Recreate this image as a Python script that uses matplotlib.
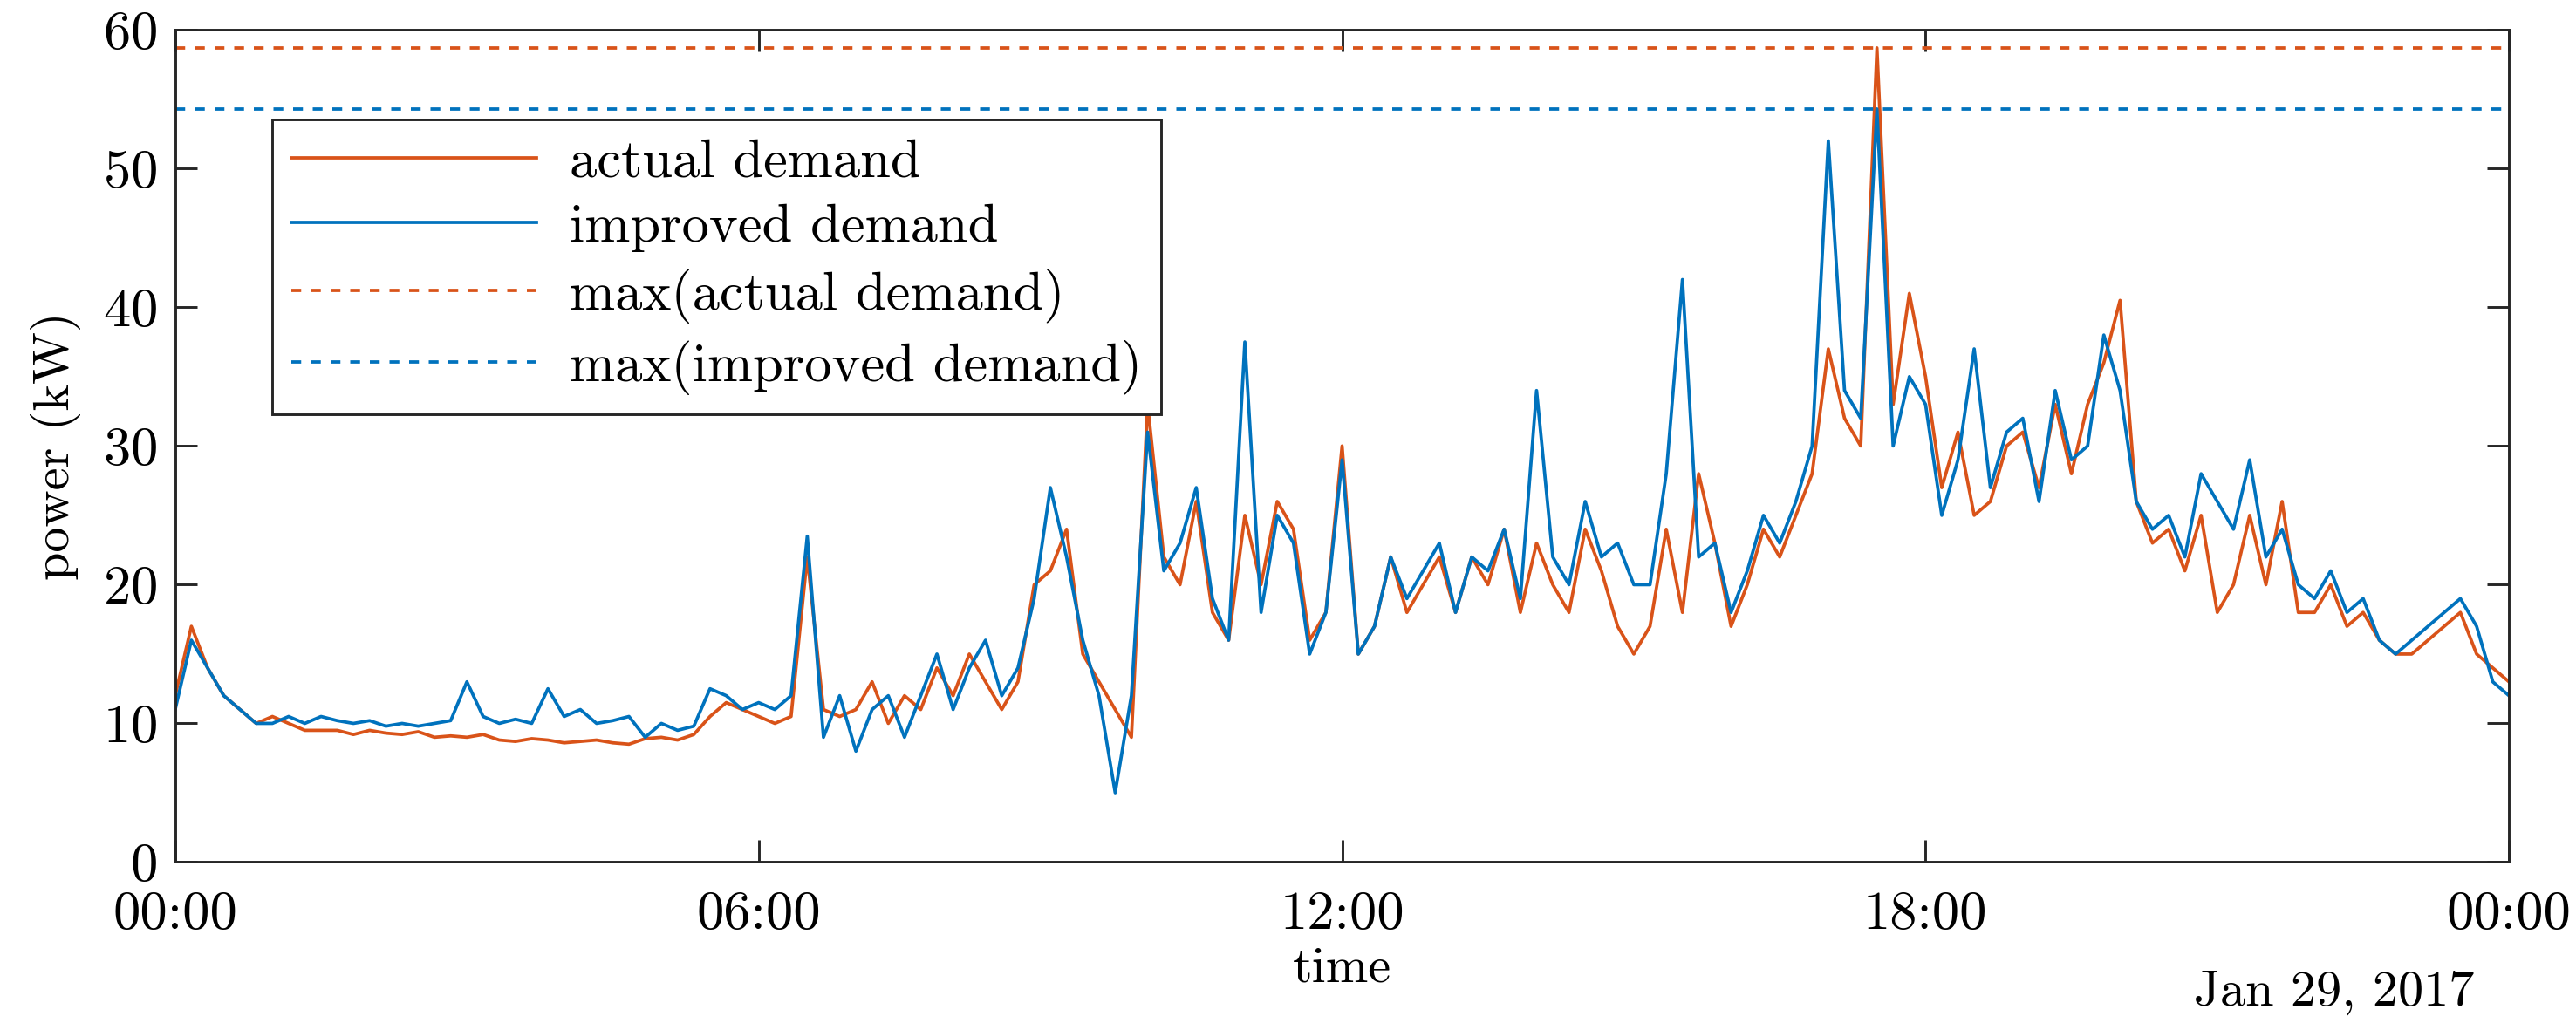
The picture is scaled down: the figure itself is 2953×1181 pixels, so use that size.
import numpy as np
import matplotlib
matplotlib.use('Agg')
import matplotlib.pyplot as plt

plt.rcParams['font.family'] = ['cmr10', 'DejaVu Serif']
plt.rcParams['mathtext.fontset'] = 'cm'
plt.rcParams['axes.formatter.use_mathtext'] = True

# 10-minute samples, 00:00 .. 24:00
actual = [12, 17, 14, 12, 11, 10,
          10.5, 10, 9.5, 9.5, 9.5, 9.2,
          9.5, 9.3, 9.2, 9.4, 9.0, 9.1,
          9.0, 9.2, 8.8, 8.7, 8.9, 8.8,
          8.6, 8.7, 8.8, 8.6, 8.5, 8.9,
          9.0, 8.8, 9.2, 10.5, 11.5, 11,
          10.5, 10, 10.5, 22, 11, 10.5,
          11, 13, 10, 12, 11, 14,
          12, 15, 13, 11, 13, 20,
          21, 24, 15, 13, 11, 9,
          33, 22, 20, 26, 18, 16,
          25, 20, 26, 24, 16, 18,
          30, 15, 17, 22, 18, 20,
          22, 18, 22, 20, 24, 18,
          23, 20, 18, 24, 21, 17,
          15, 17, 24, 18, 28, 23,
          17, 20, 24, 22, 25, 28,
          37, 32, 30, 58.7, 33, 41,
          35, 27, 31, 25, 26, 30,
          31, 27, 33, 28, 33, 36,
          40.5, 26, 23, 24, 21, 25,
          18, 20, 25, 20, 26, 18,
          18, 20, 17, 18, 16, 15,
          15, 16, 17, 18, 15, 14,
          13]
improved = [11, 16, 14, 12, 11, 10,
            10, 10.5, 10, 10.5, 10.2, 10,
            10.2, 9.8, 10, 9.8, 10, 10.2,
            13, 10.5, 10, 10.3, 10, 12.5,
            10.5, 11, 10, 10.2, 10.5, 9,
            10, 9.5, 9.8, 12.5, 12, 11,
            11.5, 11, 12, 23.5, 9, 12,
            8, 11, 12, 9, 12, 15,
            11, 14, 16, 12, 14, 19,
            27, 22, 16, 12, 5, 12,
            31, 21, 23, 27, 19, 16,
            37.5, 18, 25, 23, 15, 18,
            29, 15, 17, 22, 19, 21,
            23, 18, 22, 21, 24, 19,
            34, 22, 20, 26, 22, 23,
            20, 20, 28, 42, 22, 23,
            18, 21, 25, 23, 26, 30,
            52, 34, 32, 54.3, 30, 35,
            33, 25, 29, 37, 27, 31,
            32, 26, 34, 29, 30, 38,
            34, 26, 24, 25, 22, 28,
            26, 24, 29, 22, 24, 20,
            19, 21, 18, 19, 16, 15,
            16, 17, 18, 19, 17, 13,
            12]
hours = np.arange(len(actual)) / 6.0
xtick_labels = ['00:00', '06:00', '12:00', '18:00', '00:00']

ORANGE = '#D95319'
BLUE = '#0072BD'
FS = 15

fig = plt.figure(figsize=(2953 / 300, 1181 / 300), dpi=300)
ax = fig.add_axes([0.068, 0.163, 0.906, 0.808])
ax.plot(hours, actual, color=ORANGE, lw=0.9, label='actual demand')
ax.plot(hours, improved, color=BLUE, lw=0.9, label='improved demand')
ax.axhline(np.max(actual), color=ORANGE, lw=0.9, ls=(0, (3, 3)), label='max(actual demand)')
ax.axhline(np.max(improved), color=BLUE, lw=0.9, ls=(0, (3, 3)), label='max(improved demand)')

ax.set_xlim(0, 24)
ax.set_ylim(0, 60)
ax.set_xticks([0, 6, 12, 18, 24])
ax.set_xticklabels(xtick_labels)
ax.set_yticks(range(0, 61, 10))
ax.tick_params(direction='in', top=True, right=True, labelsize=FS, length=6, width=0.7,
               colors='#262626', pad=5)
ax.tick_params(axis='x', pad=8)
for tl in ax.get_xticklabels() + ax.get_yticklabels():
    tl.set_color('black')
for sp in ax.spines.values():
    sp.set_linewidth(0.7)
    sp.set_color('#262626')
ax.set_xlabel('time', fontsize=FS - 1, labelpad=2)
ax.set_ylabel('power (kW)', fontsize=FS - 1, labelpad=6)
ax.text(0.985, -0.13, 'Jan 29, 2017', transform=ax.transAxes, ha='right', va='top', fontsize=FS - 1)

leg = ax.legend(loc='upper left', bbox_to_anchor=(0.03, 0.925), fontsize=FS,
                frameon=True, fancybox=False, edgecolor='#262626', framealpha=1,
                handlelength=4.5, borderpad=0.35, labelspacing=0.3, handletextpad=0.6)
leg.get_frame().set_linewidth(0.7)

fig.savefig('out.png', dpi=300)
